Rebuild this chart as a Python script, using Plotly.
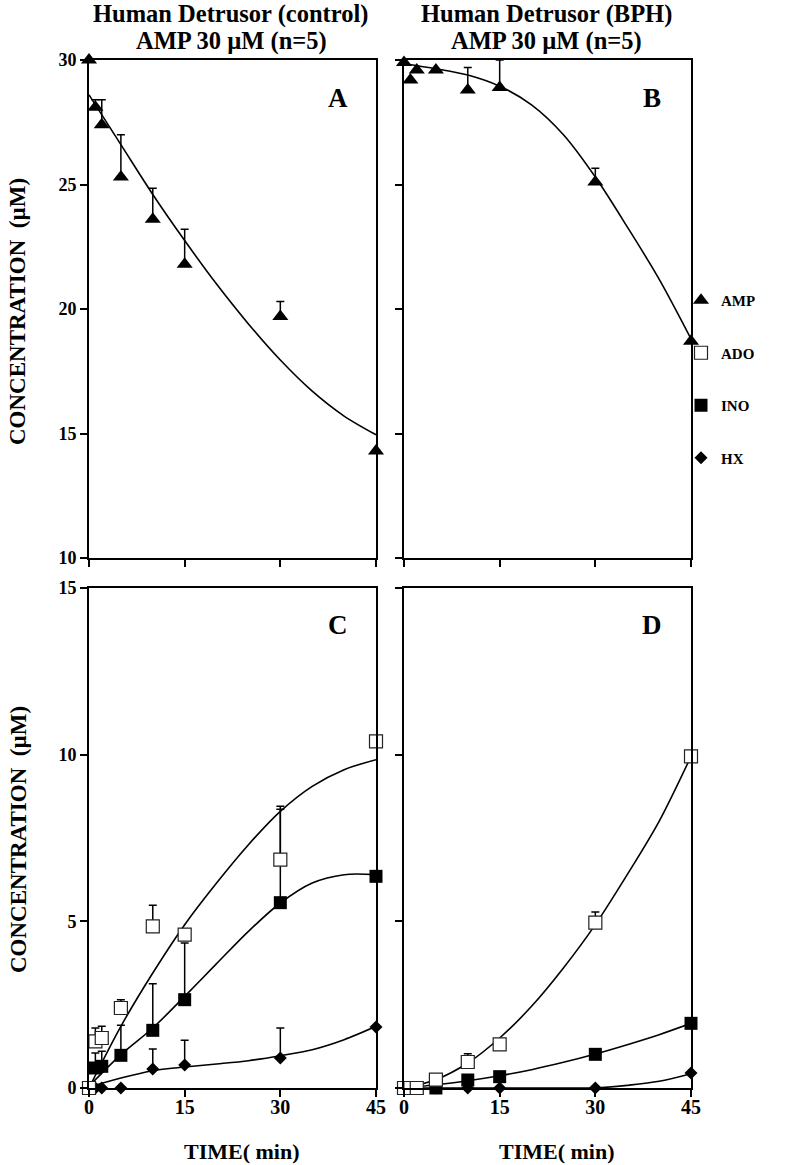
"""
Adenine nucleotide breakdown in human detrusor (control vs BPH) —
four-panel time course, AMP on top, ADO/INO/HX below.
"""
import plotly.graph_objects as go

W, H = 788, 1165
FONT = "Liberation Serif, Times New Roman, serif"
INK = "black"

# ── Data ──────────────────────────────────────────────────────────────────
TIME = [0, 1, 2, 5, 10, 15, 30, 45]            # sampling times (min)
X_TICKS = [0, 15, 30, 45]

# A: control, AMP
AMP_CTRL = [30.0, 28.1, 27.4, 25.3, 23.6, 21.8, 19.7, 14.3]
AMP_CTRL_ERR = [0, 0.3, 1.0, 1.7, 1.25, 1.4, 0.6, 0]

# B: BPH, AMP
AMP_BPH = [29.9, 29.2, 29.6, 29.6, 28.8, 28.9, 25.1, 18.7]
AMP_BPH_ERR = [0, 0, 0, 0, 0.9, 1.1, 0.55, 0]

# C: control, metabolites
ADO_CTRL = [0, 1.4, 1.5, 2.4, 4.85, 4.6, 6.85, 10.4]
ADO_CTRL_ERR = [0, 0.4, 0.35, 0.25, 0.63, 0, 1.6, 0]
INO_CTRL = [0, 0.6, 0.65, 0.98, 1.73, 2.65, 5.56, 6.35]
INO_CTRL_ERR = [0, 0.45, 0.45, 0.9, 1.4, 1.7, 2.8, 0]
HX_CTRL = [0, 0, 0, 0, 0.57, 0.69, 0.9, 1.83]
HX_CTRL_ERR = [0, 0, 0, 0, 0.6, 0.74, 0.9, 0]

# D: BPH, metabolites
ADO_BPH = [0, 0, 0, 0.25, 0.78, 1.31, 4.96, 9.95]
ADO_BPH_ERR = [0, 0, 0, 0, 0.25, 0, 0.32, 0]
INO_BPH = [0, 0, 0, 0, 0.24, 0.34, 1.01, 1.94]
HX_BPH = [0, 0, 0, 0, 0, 0, 0, 0.45]

# trendlines
FIT_T = [0, 5, 10, 15, 20, 25, 30, 35, 40, 45]
FIT_AMP_CTRL = [28.6, 26.6, 24.6, 22.75, 21.0, 19.4, 17.95, 16.7, 15.7, 14.95]
FIT_AMP_BPH = [29.85, 29.65, 29.4, 28.95, 28.2, 27.0, 25.3, 23.3, 21.2, 18.8]
FIT_ADO_CTRL = [0.0, 1.85, 3.45, 4.9, 6.15, 7.3, 8.3, 9.05, 9.55, 9.85]
FIT_INO_CTRL = [0.05, 1.0, 1.8, 2.75, 3.73, 4.7, 5.55, 6.15, 6.4, 6.4]
FIT_HX_CTRL = [0.03, 0.3, 0.52, 0.63, 0.72, 0.82, 0.97, 1.15, 1.45, 1.85]
FIT_ADO_BPH = [0.0, 0.25, 0.75, 1.5, 2.45, 3.6, 4.9, 6.4, 8.0, 9.95]
FIT_INO_BPH = [0.0, 0.1, 0.22, 0.37, 0.55, 0.77, 1.02, 1.3, 1.6, 1.94]
FIT_HX_BPH = [0, 0, 0, 0, 0, 0, 0, 0.08, 0.2, 0.43]

# marker styles per compound
MARKERS = {
    "AMP": dict(symbol="triangle-up", size=14, color=INK),
    "ADO": dict(symbol="square", size=13, color="white", line=dict(color="#222", width=1.2)),
    "INO": dict(symbol="square", size=13, color=INK),
    "HX":  dict(symbol="diamond", size=10, color=INK),
}
RANK = {"AMP": 1, "ADO": 2, "INO": 3, "HX": 4}

# panel boxes in pixels: (left, right, top, bottom)
PANELS = {
    "A": (89, 376, 60, 558),
    "B": (404, 691, 60, 558),
    "C": (89, 376, 588, 1088),
    "D": (404, 691, 588, 1088),
}
AXIS_ID = {"A": "", "B": "2", "C": "3", "D": "4"}


def _dom_x(p):
    l, r, _, _ = PANELS[p]
    return [l / W, r / W]


def _dom_y(p):
    _, _, t, b = PANELS[p]
    return [1 - b / H, 1 - t / H]


fig = go.Figure()


def add_fit(panel, y):
    n = AXIS_ID[panel]
    fig.add_trace(go.Scatter(
        x=FIT_T, y=y, mode="lines", xaxis="x" + n, yaxis="y" + n,
        line=dict(color=INK, width=1.6, shape="spline", smoothing=0.9),
        showlegend=False, hoverinfo="skip",
    ))


def add_points(panel, name, y, err=None, legend=False):
    n = AXIS_ID[panel]
    err_cfg = None
    if err is not None:
        err_cfg = dict(type="data", symmetric=False, array=err,
                       arrayminus=[0] * len(err), color=INK,
                       thickness=1.5, width=4)
    fig.add_trace(go.Scatter(
        x=TIME, y=y, mode="markers", name=name, xaxis="x" + n, yaxis="y" + n,
        marker=MARKERS[name], error_y=err_cfg, cliponaxis=False,
        showlegend=legend, legendrank=RANK[name], legendgroup=name,
    ))


# curves first so markers sit on top
add_fit("A", FIT_AMP_CTRL)
add_fit("B", FIT_AMP_BPH)
for f in (FIT_ADO_CTRL, FIT_INO_CTRL, FIT_HX_CTRL):
    add_fit("C", f)
for f in (FIT_ADO_BPH, FIT_INO_BPH, FIT_HX_BPH):
    add_fit("D", f)

add_points("A", "AMP", AMP_CTRL, AMP_CTRL_ERR, legend=True)
add_points("B", "AMP", AMP_BPH, AMP_BPH_ERR)
add_points("C", "HX", HX_CTRL, HX_CTRL_ERR, legend=True)
add_points("C", "INO", INO_CTRL, INO_CTRL_ERR, legend=True)
add_points("C", "ADO", ADO_CTRL, ADO_CTRL_ERR, legend=True)
add_points("D", "HX", HX_BPH)
add_points("D", "INO", INO_BPH)
add_points("D", "ADO", ADO_BPH, ADO_BPH_ERR)

# ── Axes ──────────────────────────────────────────────────────────────────
_axis_common = dict(
    showline=True, linewidth=2, linecolor=INK, mirror=True,
    ticks="outside", ticklen=7, tickwidth=2, tickcolor=INK,
    showgrid=False, zeroline=False, fixedrange=True, automargin=False,
)
layout_axes = {}
for p, n in AXIS_ID.items():
    bottom_row = p in ("C", "D")
    left_col = p in ("A", "C")
    layout_axes["xaxis" + n] = dict(
        _axis_common, domain=_dom_x(p), anchor="y" + n, range=[0, 45],
        tickvals=X_TICKS, showticklabels=bottom_row, ticklabelstandoff=-7,
        tickfont=dict(family=FONT, size=20, color=INK, weight="bold"),
    )
    layout_axes["yaxis" + n] = dict(
        _axis_common, domain=_dom_y(p), anchor="x" + n,
        range=[0, 15] if bottom_row else [10, 30], dtick=5,
        showticklabels=left_col,
        tickfont=dict(family=FONT, size=18, color=INK, weight="bold"),
    )

# ── Text ──────────────────────────────────────────────────────────────────
bold = dict(family=FONT, color=INK, weight="bold")
annotations = []


def text_at(txt, x, y, size, **kw):
    annotations.append(dict(
        text=txt, x=x / W, y=1 - y / H, xref="paper", yref="paper",
        xanchor="center", yanchor="middle",
        showarrow=False, font=dict(bold, size=size), **kw,
    ))


text_at("Human Detrusor (control)", 230, 14, 24.5)
text_at("AMP 30 µM (n=5)", 231, 41, 24.5)
text_at("Human Detrusor (BPH)", 546, 14, 24.5)
text_at("AMP 30 µM (n=5)", 546, 41, 24.5)

for p, (cx, cy) in {"A": (338, 98), "B": (652, 98),
                    "C": (338, 625), "D": (652, 625)}.items():
    text_at(p, cx, cy, 27)

text_at("CONCENTRATION  (µM)", 18, 312, 23, textangle=-90)
text_at("CONCENTRATION  (µM)", 18, 840, 23, textangle=-90)
text_at("TIME( min)", 242, 1151, 22)
text_at("TIME( min)", 557, 1151, 22)

fig.update_layout(
    template="none",
    width=W, height=H,
    margin=dict(l=0, r=0, t=0, b=0, autoexpand=False),
    paper_bgcolor="white", plot_bgcolor="white",
    font=dict(family=FONT, color=INK),
    showlegend=True,
    legend=dict(
        x=681 / W, y=1 - 284 / H, xanchor="left", yanchor="top",
        font=dict(bold, size=15), traceorder="grouped",
        tracegroupgap=30, itemsizing="trace", bgcolor="rgba(0,0,0,0)",
    ),
    annotations=annotations,
    **layout_axes,
)

# page body has an 8px default margin; drop it so the figure sits at 0,0
fig.write_html(
    "out.html",
    config={"displayModeBar": False},
    post_script="document.body.style.margin = '0';",
)
